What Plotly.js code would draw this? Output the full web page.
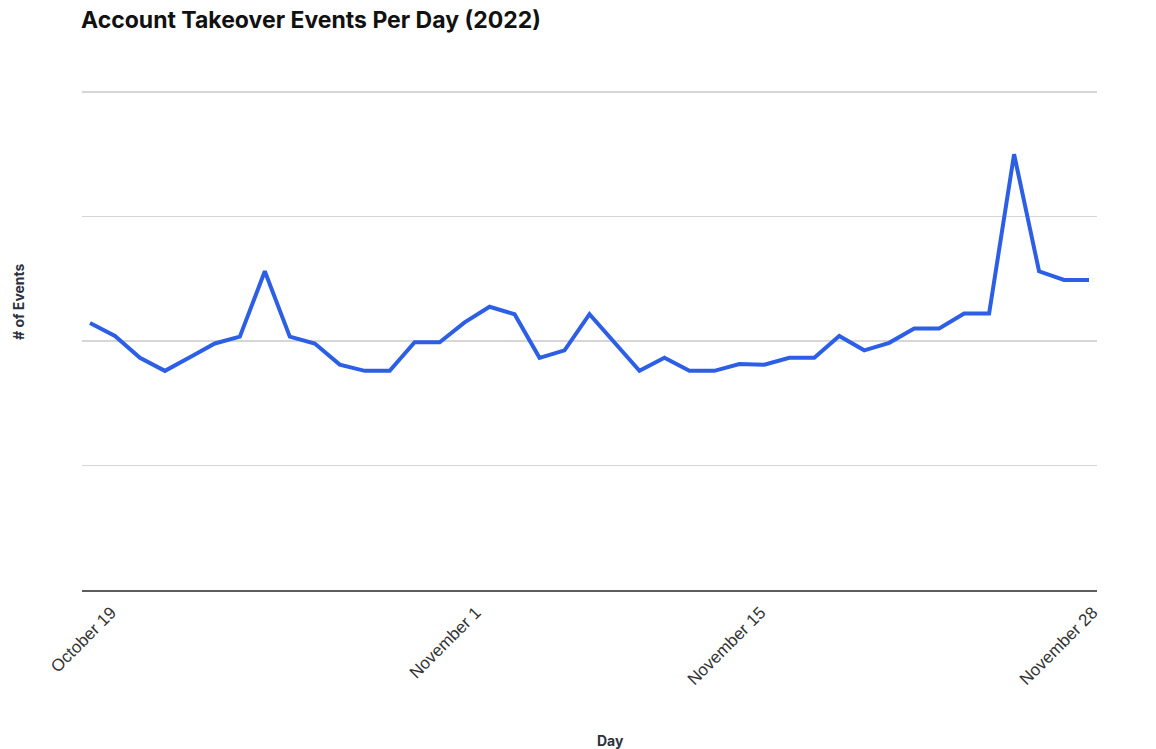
<!DOCTYPE html>
<html>
<head>
<meta charset="utf-8">
<script src="https://cdn.plot.ly/plotly-3.0.1.min.js"></script>
<style>
  html, body { margin: 0; padding: 0; background: #ffffff; }
  #chart { width: 1156px; height: 749px; }
  .js-line { stroke-linejoin: miter !important; }
</style>
</head>
<body>
<div id="chart"></div>
<script>
// Daily account takeover events, Oct 19 – Nov 28, 2022
const dates = [
  '2022-10-19','2022-10-20','2022-10-21','2022-10-22','2022-10-23','2022-10-24','2022-10-25',
  '2022-10-26','2022-10-27','2022-10-28','2022-10-29','2022-10-30','2022-10-31','2022-11-01',
  '2022-11-02','2022-11-03','2022-11-04','2022-11-05','2022-11-06','2022-11-07','2022-11-08',
  '2022-11-09','2022-11-10','2022-11-11','2022-11-12','2022-11-13','2022-11-14','2022-11-15',
  '2022-11-16','2022-11-17','2022-11-18','2022-11-19','2022-11-20','2022-11-21','2022-11-22',
  '2022-11-23','2022-11-24','2022-11-25','2022-11-26','2022-11-27','2022-11-28'
];
const events = [
  214.5, 204, 186.5, 176, 187, 198, 203.5,
  256, 203.5, 198, 181, 176, 176, 199,
  199, 215, 227.5, 221.5, 186.5, 192.5, 221.5,
  199, 176, 186.5, 176, 176, 181.5, 181,
  186.5, 186.5, 204, 192.5, 198.5, 210, 210,
  222, 222, 350, 256, 249, 249
];
// Axis labels and where they sit along the day index
const tickLabels = ['October 19', 'November 1', 'November 15', 'November 28'];
const tickPositions = [0.85, 15.45, 26.85, 40.15];

const dayIndex = dates.map((d, i) => i);

const trace = {
  x: dayIndex,
  y: events,
  customdata: dates,
  type: 'scatter',
  mode: 'lines',
  line: { color: '#2d5fe6', width: 4 },
  hovertemplate: '%{customdata}: %{y}<extra></extra>'
};

const layout = {
  width: 1156,
  height: 749,
  paper_bgcolor: '#ffffff',
  plot_bgcolor: '#ffffff',
  margin: { l: 82, r: 59, t: 89, b: 159 },
  showlegend: false,
  title: {
    text: '<b>Account Takeover Events Per Day (2022)</b>',
    font: { family: 'Inter, "Liberation Sans", sans-serif', size: 23, color: '#111111' },
    xref: 'container', x: 81 / 1156, xanchor: 'left',
    yref: 'container', y: 1 - 20 / 749, yanchor: 'middle'
  },
  xaxis: {
    range: [-0.32, 40.32],
    tickmode: 'array',
    tickvals: tickPositions,
    ticktext: tickLabels,
    tickangle: -45,
    ticks: '',
    ticklabelstandoff: 4,
    showgrid: false,
    zeroline: false,
    showline: true,
    linecolor: '#5c5c5c',
    linewidth: 2,
    tickfont: { family: '"Liberation Sans", Arial, sans-serif', size: 17, color: '#333333' },
    fixedrange: true
  },
  yaxis: {
    range: [0, 402.4],
    tickmode: 'array',
    tickvals: [0, 100, 200, 300, 400],
    showticklabels: false,
    ticks: '',
    showgrid: true,
    gridcolor: '#d6d6d6',
    gridwidth: 1.5,
    zeroline: false,
    showline: false,
    fixedrange: true
  },
  annotations: [
    {
      text: '<b>Day</b>',
      xref: 'paper', yref: 'paper',
      x: (610 - 82) / 1015, y: -(740 - 590) / 501,
      xanchor: 'center', yanchor: 'middle',
      showarrow: false,
      font: { family: 'Inter, "Liberation Sans", sans-serif', size: 14, color: '#2b313d' }
    },
    {
      text: '<b># of Events</b>',
      xref: 'paper', yref: 'paper',
      x: -(82 - 18) / 1015, y: (590 - 302) / 501,
      xanchor: 'center', yanchor: 'middle',
      textangle: -90,
      showarrow: false,
      font: { family: 'Inter, "Liberation Sans", sans-serif', size: 14, color: '#2b313d' }
    }
  ]
};

Plotly.newPlot('chart', [trace], layout, { displayModeBar: false, staticPlot: true });
</script>
</body>
</html>
